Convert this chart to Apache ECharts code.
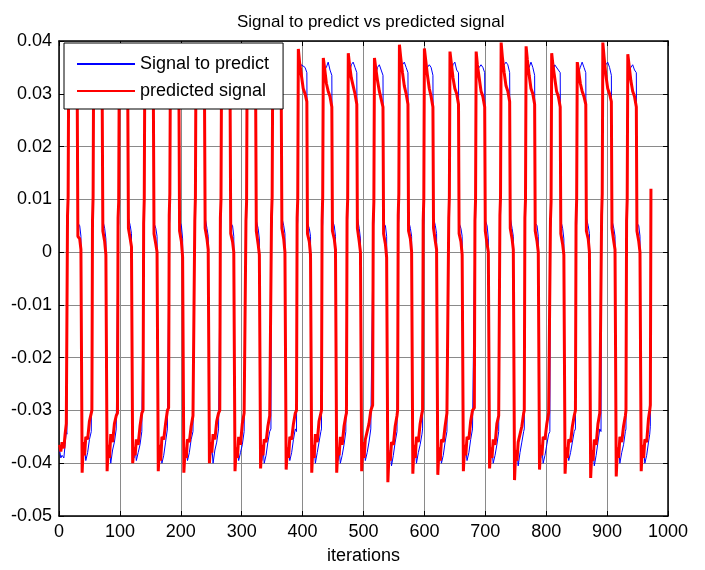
<!DOCTYPE html>
<html>
<head>
<meta charset="utf-8">
<title>Signal to predict vs predicted signal</title>
<script src="https://cdn.jsdelivr.net/npm/echarts@6/dist/echarts.min.js"></script>
<style>
  html, body { margin: 0; padding: 0; background: #fff; }
  #myChart { width: 705px; height: 570px; }
</style>
</head>
<body>
<div id="myChart"></div>
<script>
// iteration of each vertex (one line per cycle of the signal)
const iterations = [
  1, 3, 5, 8, 10, 12,
  13, 14, 15, 16, 18, 21, 24, 27, 30, 31, 34, 36, 38, 40, 42, 44, 47, 50, 53,
  54, 55, 56, 57, 59, 62, 65, 68, 71, 72, 75, 77, 79, 81, 83, 85, 88, 91, 94,
  96, 97, 98, 99, 101, 104, 107, 110, 113, 114, 117, 119, 121, 123, 125, 127, 130, 133, 136,
  138, 139, 140, 141, 143, 146, 149, 152, 155, 156, 159, 161, 163, 165, 167, 169, 172, 175, 178,
  180, 181, 182, 183, 185, 188, 191, 194, 197, 198, 201, 203, 205, 207, 209, 211, 214, 217, 220,
  222, 223, 224, 225, 227, 230, 233, 236, 239, 240, 243, 245, 247, 249, 251, 253, 256, 259, 262,
  264, 265, 266, 267, 269, 272, 275, 278, 281, 282, 285, 287, 289, 291, 293, 295, 298, 301, 304,
  306, 307, 308, 309, 311, 314, 317, 320, 323, 324, 327, 329, 331, 333, 335, 337, 340, 343, 346,
  348, 349, 350, 351, 353, 356, 359, 362, 365, 366, 369, 371, 373, 375, 377, 379, 382, 385, 388,
  390, 391, 392, 393, 395, 398, 401, 404, 407, 408, 411, 413, 415, 417, 419, 421, 424, 427, 430,
  431, 432, 433, 434, 436, 439, 442, 445, 448, 449, 452, 454, 456, 458, 460, 462, 465, 468, 471,
  472, 473, 474, 475, 477, 480, 483, 486, 489, 490, 493, 495, 497, 499, 501, 503, 506, 509, 512,
  515, 516, 517, 518, 520, 523, 526, 529, 532, 533, 536, 538, 540, 542, 544, 546, 549, 552, 555,
  556, 557, 558, 559, 561, 564, 567, 570, 573, 574, 577, 579, 581, 583, 585, 587, 590, 593, 596,
  597, 598, 599, 600, 602, 605, 608, 611, 614, 615, 618, 620, 622, 624, 626, 628, 631, 634, 637,
  639, 640, 641, 642, 644, 647, 650, 653, 656, 657, 660, 662, 664, 666, 668, 670, 673, 676, 679,
  682, 683, 684, 685, 687, 690, 693, 696, 699, 700, 703, 705, 707, 709, 711, 713, 716, 719, 722,
  723, 724, 725, 726, 728, 731, 734, 737, 740, 741, 744, 746, 748, 750, 752, 754, 757, 760, 763,
  764, 765, 766, 767, 769, 772, 775, 778, 781, 782, 785, 787, 789, 791, 793, 795, 798, 801, 804,
  806, 807, 808, 809, 811, 814, 817, 820, 823, 824, 827, 829, 831, 833, 835, 837, 840, 843, 846,
  848, 849, 850, 851, 853, 856, 859, 862, 865, 866, 869, 871, 873, 875, 877, 879, 882, 885, 888,
  890, 891, 892, 893, 895, 898, 901, 904, 907, 908, 911, 913, 915, 917, 919, 921, 924, 927, 930,
  931, 932, 933, 934, 936, 939, 942, 945, 948, 949, 952, 954, 956, 958, 960, 962, 965, 968, 970,
  971, 972
];

// blue, thin
const signalToPredict = [
  -0.0375, -0.039, -0.0385, -0.039, -0.0365, -0.034,
  -0.0345, 0.004, 0.0065, 0.036, 0.034, 0.035, 0.0355, 0.0345, 0.034, 0.0055, 0.005, 0.003, -0.0365, -0.039, -0.037, -0.0395, -0.038, -0.0355, -0.034,
  -0.034, 0.0045, 0.006, 0.0365, 0.0345, 0.0355, 0.036, 0.035, 0.0335, 0.006, 0.0045, 0.0025, -0.036, -0.0385, -0.0375, -0.040, -0.0375, -0.036, -0.0335,
  -0.0335, 0.0035, 0.0055, 0.035, 0.0335, 0.0345, 0.0355, 0.035, 0.034, 0.0065, 0.005, 0.0035, -0.0355, -0.039, -0.037, -0.0395, -0.038, -0.0365, -0.034,
  -0.034, 0.004, 0.006, 0.0365, 0.034, 0.035, 0.036, 0.0345, 0.0335, 0.0055, 0.0045, 0.003, -0.036, -0.0395, -0.0375, -0.040, -0.0385, -0.036, -0.0335,
  -0.0335, 0.0045, 0.0065, 0.036, 0.034, 0.0355, 0.0355, 0.035, 0.034, 0.006, 0.005, 0.0025, -0.0365, -0.039, -0.037, -0.0395, -0.038, -0.0355, -0.034,
  -0.034, 0.004, 0.006, 0.037, 0.0345, 0.035, 0.036, 0.0355, 0.034, 0.0065, 0.0045, 0.003, -0.036, -0.0385, -0.037, -0.040, -0.0375, -0.036, -0.0335,
  -0.0335, 0.0035, 0.006, 0.0355, 0.034, 0.035, 0.0355, 0.0345, 0.0335, 0.0055, 0.005, 0.003, -0.0365, -0.039, -0.0375, -0.0395, -0.038, -0.0365, -0.034,
  -0.034, 0.004, 0.0065, 0.0365, 0.0345, 0.0355, 0.036, 0.035, 0.034, 0.006, 0.0045, 0.0025, -0.036, -0.0395, -0.037, -0.040, -0.0385, -0.036, -0.034,
  -0.0335, 0.0045, 0.006, 0.035, 0.034, 0.0345, 0.0355, 0.035, 0.0335, 0.0065, 0.005, 0.0035, -0.0365, -0.039, -0.0375, -0.0395, -0.038, -0.0355, -0.0335,
  -0.034, 0.004, 0.006, 0.0365, 0.0345, 0.0355, 0.0355, 0.035, 0.034, 0.0055, 0.0045, 0.003, -0.036, -0.039, -0.037, -0.040, -0.038, -0.036, -0.034,
  -0.0335, 0.0035, 0.0055, 0.0355, 0.0345, 0.035, 0.036, 0.0345, 0.0335, 0.006, 0.005, 0.003, -0.0365, -0.0395, -0.0375, -0.040, -0.0385, -0.0365, -0.034,
  -0.034, 0.0045, 0.0065, 0.0365, 0.034, 0.0355, 0.036, 0.035, 0.034, 0.0065, 0.0045, 0.0025, -0.036, -0.039, -0.037, -0.0395, -0.038, -0.036, -0.0335,
  -0.0335, 0.004, 0.006, 0.0355, 0.0335, 0.035, 0.0355, 0.0345, 0.0335, 0.0055, 0.005, 0.003, -0.037, -0.0395, -0.0375, -0.0405, -0.0385, -0.036, -0.034,
  -0.034, 0.0045, 0.0065, 0.037, 0.0345, 0.0355, 0.036, 0.035, 0.034, 0.006, 0.0045, 0.003, -0.0365, -0.039, -0.037, -0.040, -0.038, -0.0365, -0.0345,
  -0.0335, 0.004, 0.006, 0.0365, 0.0345, 0.035, 0.0355, 0.035, 0.0335, 0.0065, 0.005, 0.0035, -0.036, -0.0395, -0.0375, -0.040, -0.0385, -0.036, -0.034,
  -0.034, 0.0035, 0.0055, 0.036, 0.034, 0.0355, 0.036, 0.0345, 0.034, 0.0055, 0.0045, 0.003, -0.0365, -0.039, -0.037, -0.0395, -0.038, -0.0355, -0.0335,
  -0.0335, 0.0045, 0.0065, 0.036, 0.0345, 0.035, 0.0355, 0.035, 0.034, 0.006, 0.005, 0.0025, -0.036, -0.039, -0.0375, -0.040, -0.0385, -0.0365, -0.034,
  -0.034, 0.004, 0.006, 0.037, 0.035, 0.0355, 0.036, 0.0355, 0.034, 0.0065, 0.0045, 0.003, -0.037, -0.0395, -0.0375, -0.0405, -0.038, -0.036, -0.034,
  -0.0335, 0.004, 0.0065, 0.0365, 0.0345, 0.035, 0.036, 0.035, 0.0335, 0.0055, 0.005, 0.003, -0.036, -0.039, -0.037, -0.040, -0.0385, -0.0365, -0.0345,
  -0.034, 0.0045, 0.006, 0.036, 0.034, 0.0355, 0.0355, 0.0345, 0.034, 0.006, 0.0045, 0.0025, -0.0365, -0.0395, -0.0375, -0.0395, -0.038, -0.036, -0.034,
  -0.0335, 0.0035, 0.0055, 0.0355, 0.034, 0.035, 0.036, 0.035, 0.034, 0.0065, 0.005, 0.0035, -0.037, -0.0395, -0.0375, -0.0405, -0.0385, -0.036, -0.0335,
  -0.034, 0.0045, 0.0065, 0.037, 0.0345, 0.0355, 0.036, 0.035, 0.0335, 0.006, 0.0045, 0.003, -0.0365, -0.039, -0.037, -0.040, -0.038, -0.0365, -0.034,
  -0.0335, 0.004, 0.006, 0.036, 0.034, 0.035, 0.0355, 0.0345, 0.034, 0.0055, 0.005, 0.003, -0.036, -0.039, -0.0375, -0.040, -0.0385, -0.036, -0.0345,
  -0.033, 0.005
];

// red, thick
const predictedSignal = [
  -0.0365, -0.0378, -0.036, -0.0372, -0.0345, -0.0325,
  -0.0324, 0.007, 0.0105, 0.037, 0.035, 0.032, 0.031, 0.0295, 0.028, 0.003, 0.0025, 0.0005, -0.0418, -0.036, -0.0385, -0.035, -0.0355, -0.032, -0.0305,
  -0.030, 0.006, 0.0105, 0.038, 0.0355, 0.033, 0.0305, 0.030, 0.0275, 0.004, 0.002, -0.0005, -0.0415, -0.0365, -0.039, -0.0345, -0.036, -0.0325, -0.031,
  -0.0305, 0.0065, 0.0095, 0.036, 0.0345, 0.032, 0.030, 0.0305, 0.0275, 0.0045, 0.0025, 0.001, -0.040, -0.037, -0.0385, -0.0355, -0.0365, -0.033, -0.0305,
  -0.030, 0.0055, 0.010, 0.038, 0.036, 0.033, 0.031, 0.0295, 0.028, 0.0035, 0.0015, 0.000, -0.0415, -0.0365, -0.0395, -0.035, -0.0355, -0.0325, -0.030,
  -0.0295, 0.007, 0.011, 0.037, 0.035, 0.0325, 0.0305, 0.030, 0.0285, 0.004, 0.002, -0.001, -0.0418, -0.0375, -0.039, -0.0355, -0.036, -0.033, -0.031,
  -0.031, 0.006, 0.0105, 0.039, 0.0365, 0.0335, 0.031, 0.0305, 0.0275, 0.0045, 0.0025, 0.0005, -0.040, -0.036, -0.038, -0.0345, -0.0355, -0.032, -0.0305,
  -0.030, 0.0065, 0.010, 0.037, 0.035, 0.032, 0.0305, 0.0295, 0.028, 0.0035, 0.002, 0.000, -0.0415, -0.037, -0.039, -0.035, -0.0365, -0.0325, -0.0305,
  -0.0305, 0.006, 0.0095, 0.038, 0.0355, 0.033, 0.031, 0.030, 0.0275, 0.004, 0.0015, -0.0005, -0.041, -0.0365, -0.0385, -0.0355, -0.036, -0.033, -0.031,
  -0.031, 0.007, 0.0105, 0.036, 0.0345, 0.0325, 0.0305, 0.0295, 0.028, 0.0045, 0.0025, 0.000, -0.0412, -0.037, -0.039, -0.035, -0.0355, -0.0325, -0.0305,
  -0.030, 0.0065, 0.010, 0.0385, 0.036, 0.0335, 0.031, 0.030, 0.0285, 0.0035, 0.002, -0.0005, -0.0418, -0.0365, -0.039, -0.0345, -0.036, -0.032, -0.0305,
  -0.030, 0.006, 0.0105, 0.0368, 0.035, 0.032, 0.0305, 0.0295, 0.0275, 0.004, 0.0025, 0.0005, -0.0418, -0.037, -0.0385, -0.035, -0.0365, -0.033, -0.031,
  -0.0305, 0.0065, 0.010, 0.0377, 0.0355, 0.033, 0.0315, 0.030, 0.028, 0.0045, 0.002, 0.000, -0.0415, -0.036, -0.039, -0.0355, -0.0355, -0.0325, -0.030,
  -0.029, 0.0055, 0.0095, 0.0368, 0.035, 0.0325, 0.0305, 0.029, 0.0275, 0.0035, 0.0015, -0.001, -0.0436, -0.038, -0.0395, -0.036, -0.0365, -0.033, -0.031,
  -0.030, 0.007, 0.011, 0.0393, 0.037, 0.034, 0.0315, 0.030, 0.028, 0.004, 0.0025, 0.000, -0.042, -0.0365, -0.039, -0.035, -0.036, -0.0325, -0.0305,
  -0.030, 0.006, 0.010, 0.0386, 0.0365, 0.0335, 0.031, 0.0295, 0.0275, 0.0045, 0.002, 0.0005, -0.0422, -0.037, -0.0395, -0.0355, -0.036, -0.033, -0.0305,
  -0.0305, 0.0065, 0.0105, 0.038, 0.036, 0.033, 0.031, 0.030, 0.028, 0.0035, 0.002, -0.0005, -0.0415, -0.0365, -0.0385, -0.035, -0.0355, -0.032, -0.030,
  -0.0295, 0.006, 0.010, 0.038, 0.0355, 0.033, 0.0305, 0.0295, 0.0275, 0.004, 0.0015, 0.000, -0.041, -0.037, -0.039, -0.0355, -0.0365, -0.0325, -0.031,
  -0.031, 0.007, 0.0105, 0.0397, 0.037, 0.034, 0.0315, 0.0305, 0.0285, 0.0045, 0.0025, 0.0005, -0.0432, -0.0375, -0.0395, -0.036, -0.036, -0.033, -0.0305,
  -0.030, 0.0065, 0.010, 0.039, 0.0365, 0.0335, 0.031, 0.030, 0.028, 0.004, 0.002, 0.000, -0.0412, -0.0365, -0.0385, -0.035, -0.0355, -0.0325, -0.0305,
  -0.0305, 0.006, 0.0095, 0.0377, 0.0355, 0.033, 0.0305, 0.0295, 0.0275, 0.0035, 0.0015, -0.0005, -0.042, -0.037, -0.039, -0.0355, -0.036, -0.033, -0.031,
  -0.030, 0.0055, 0.010, 0.036, 0.0345, 0.032, 0.0305, 0.0295, 0.028, 0.004, 0.0025, 0.000, -0.0428, -0.0375, -0.0395, -0.0355, -0.0365, -0.0325, -0.0305,
  -0.0305, 0.007, 0.011, 0.0397, 0.037, 0.0335, 0.031, 0.030, 0.0285, 0.0045, 0.002, 0.0005, -0.0425, -0.037, -0.039, -0.035, -0.036, -0.033, -0.031,
  -0.030, 0.006, 0.010, 0.0375, 0.0355, 0.0325, 0.0305, 0.0295, 0.0275, 0.004, 0.002, 0.000, -0.0415, -0.0365, -0.039, -0.0355, -0.036, -0.0315, -0.030,
  -0.029, 0.012
];

const xTicks = { min: 0, max: 1000, interval: 100 };
const yTicks = { min: -0.05, max: 0.04, interval: 0.01 };

const FONT = 'Liberation Sans, Arial, sans-serif';

function pairs(ys) {
  return iterations.map((x, i) => [x, ys[i]]);
}

const myChart = echarts.init(document.getElementById('myChart'), null, { renderer: 'canvas' });

const axisLine = { show: true, onZero: false, lineStyle: { color: '#000', width: 1.5 } };
const tickIn = { show: true, inside: true, length: 5, lineStyle: { color: '#000', width: 1 } };
const gridLine = { show: true, lineStyle: { color: '#8a8a8a', width: 1, type: 'solid' } };

myChart.setOption({
  animation: false,
  backgroundColor: '#fff',
  title: {
    text: 'Signal to predict vs predicted signal',
    left: 232,
    top: 9,
    textStyle: { fontFamily: FONT, fontSize: 17, fontWeight: 'normal', color: '#000' },
  },
  legend: {
    data: ['Signal to predict', 'predicted signal'],
    orient: 'vertical',
    left: 64,
    top: 43,
    padding: [12, 14, 9, 12],
    itemWidth: 58,
    itemHeight: 14,
    itemGap: 9,
    backgroundColor: '#fff',
    borderColor: '#000',
    borderWidth: 1,
    borderRadius: 0,
    itemStyle: { opacity: 0 }, // hide the marker dot, keep the line sample
    textStyle: { fontFamily: FONT, fontSize: 18, color: '#000' },
  },
  grid: { left: 59, right: 37, top: 41, bottom: 49, containLabel: false },
  xAxis: [
    {
      type: 'value',
      position: 'bottom',
      min: xTicks.min,
      max: xTicks.max,
      interval: xTicks.interval,
      name: 'iterations',
      nameLocation: 'middle',
      nameGap: 31,
      nameTextStyle: { fontFamily: FONT, fontSize: 18, color: '#000' },
      axisLine,
      axisTick: tickIn,
      axisLabel: {
        fontFamily: FONT,
        fontSize: 18,
        color: '#000',
        margin: 7,
        formatter(v) {
          return String(v);
        },
      },
      splitLine: gridLine,
    },
    {
      type: 'value',
      position: 'top',
      min: xTicks.min,
      max: xTicks.max,
      interval: xTicks.interval,
      axisLine,
      axisTick: tickIn,
      axisLabel: { show: false },
      splitLine: { show: false },
    },
  ],
  yAxis: [
    {
      type: 'value',
      position: 'left',
      min: yTicks.min,
      max: yTicks.max,
      interval: yTicks.interval,
      axisLine,
      axisTick: tickIn,
      axisLabel: {
        fontFamily: FONT,
        fontSize: 18,
        color: '#000',
        margin: 7,
        formatter(v) {
          return String(Math.round(v * 100) / 100);
        },
      },
      splitLine: gridLine,
    },
    {
      type: 'value',
      position: 'right',
      min: yTicks.min,
      max: yTicks.max,
      interval: yTicks.interval,
      axisLine,
      axisTick: tickIn,
      axisLabel: { show: false },
      splitLine: { show: false },
    },
  ],
  series: [
    {
      name: 'Signal to predict',
      type: 'line',
      xAxisIndex: 0,
      yAxisIndex: 0,
      symbol: 'none',
      color: '#0000ff',
      lineStyle: { color: '#0000ff', width: 1 },
      data: pairs(signalToPredict),
      z: 2,
    },
    {
      name: 'predicted signal',
      type: 'line',
      xAxisIndex: 0,
      yAxisIndex: 0,
      symbol: 'none',
      color: '#ff0000',
      lineStyle: { color: '#ff0000', width: 3 },
      data: pairs(predictedSignal),
      z: 3,
    },
  ],
});
</script>
</body>
</html>
